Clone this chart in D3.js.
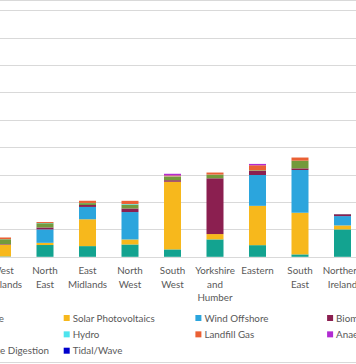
<!DOCTYPE html>
<html>
<head>
<meta charset="utf-8">
<script src="https://cdn.jsdelivr.net/npm/d3@7"></script>
<style>
  html, body { margin: 0; padding: 0; background: #fff; overflow: hidden; }
  svg { display: block; }
  text { font-family: "Lato", "Liberation Sans", sans-serif; fill: #595959; }
</style>
</head>
<body>
<svg id="chart" width="356" height="364"></svg>
<script>
// ---- data (MW) ----
const categories = ["West Midlands", "North East", "East Midlands", "North West", "South West",
  "Yorkshire and Humber", "Eastern", "South East", "Northern Ireland"];
const tickLabels = [["West", "Midlands"], ["North", "East"], ["East", "Midlands"], ["North", "West"],
  ["South", "West"], ["Yorkshire", "and", "Humber"], ["Eastern"], ["South", "East"], ["Northern", "Ireland"]];
const seriesNames = ["Wind Onshore", "Solar Photovoltaics", "Wind Offshore", "Biomass", "Co-firing",
  "Hydro", "Landfill Gas", "Anaerobic Digestion", "Sewage Sludge Digestion", "Tidal/Wave"];
const seriesColors = ["#13A390", "#F7B81C", "#2BA5DD", "#8B1F50", "#739A3C",
  "#4EE4EE", "#EA6034", "#B12BD2", "#A5A5A5", "#0000CC"];
const windOnshore  = [15, 430, 390, 450, 270, 635, 425, 88, 1000];
const solarPV      = [425, 80, 980, 183, 2470, 195, 1435, 1520, 145];
const windOffshore = [0, 490, 450, 1000, 0, 0, 1125, 1560, 340];
const biomass      = [20, 70, 70, 130, 55, 2035, 155, 60, 70];
const coFiring     = [180, 155, 70, 145, 130, 130, 20, 280, 0];
const hydro        = [5, 10, 5, 20, 10, 5, 0, 0, 5];
const landfillGas  = [60, 35, 80, 115, 35, 75, 180, 115, 0];
const anaerobic    = [0, 0, 0, 0, 60, 0, 50, 0, 0];
const sewage       = [0, 0, 0, 0, 0, 0, 0, 0, 0];
const tidalWave    = [0, 0, 0, 0, 0, 0, 0, 0, 0];
const yTicks = [0, 1000, 2000, 3000, 4000, 5000, 6000, 7000, 8000, 9000];

const seriesValues = [windOnshore, solarPV, windOffshore, biomass, coFiring, hydro,
  landfillGas, anaerobic, sewage, tidalWave];

const rows = categories.map((c, i) => {
  const r = { category: c };
  seriesNames.forEach((s, j) => r[s] = seriesValues[j][i]);
  return r;
});

const svg = d3.select("#chart");
const FS = 9.8;

// chart border (chart area extends beyond the visible window)
svg.append("rect").attr("x", -300).attr("y", 0.5).attr("width", 1000).attr("height", 362)
  .attr("fill", "#fff").attr("stroke", "#D9D9D9").attr("stroke-width", 1);

const plotLeft = -70, plotRight = 430;
const x = d3.scaleBand().domain(categories).range([-18.75, 363.75]).paddingInner(0.6).paddingOuter(0.3);
const y = d3.scaleLinear().domain([0, 9000]).range([256.8, 10.2]);

// gridlines (value labels lie outside the visible window)
const yAxis = d3.axisLeft(y).tickValues(yTicks).tickSize(-(plotRight - plotLeft)).tickFormat("");
const gy = svg.append("g").attr("transform", `translate(${plotLeft},0)`).call(yAxis);
gy.select(".domain").remove();
gy.selectAll(".tick line").attr("stroke", "#D9D9D9").attr("stroke-width", 1);
gy.selectAll(".tick").attr("transform", d => `translate(0,${Math.round(y(d)) + 0.5})`);
gy.selectAll(".tick text").remove();

// stacked bars
const stack = d3.stack().keys(seriesNames);
const stacked = stack(rows);
svg.append("g").selectAll("g").data(stacked).join("g")
  .attr("fill", (d, i) => seriesColors[i])
  .selectAll("rect").data(d => d).join("rect")
  .attr("x", d => x(d.data.category))
  .attr("width", x.bandwidth())
  .attr("y", d => y(d[1]))
  .attr("height", d => Math.max(0, y(d[0]) - y(d[1])));

// category axis
const xAxis = d3.axisBottom(x).tickSize(0).tickFormat("");
const gx = svg.append("g").attr("transform", `translate(0,${Math.round(y(0)) + 0.5})`).call(xAxis);
gx.select(".domain").attr("stroke", "#D9D9D9").attr("d", `M${plotLeft},0H${plotRight}`);
gx.selectAll(".tick").each(function(d, i) {
  const t = d3.select(this).append("text")
    .attr("text-anchor", "middle").attr("font-size", FS).attr("fill", "#595959");
  tickLabels[i].forEach((line, k) => {
    t.append("tspan").attr("x", 0).attr("y", 16.6 + k * 13.4).text(line);
  });
});

// legend (4 columns)
const legCols = 4, colPitch = 131.7, textX0 = -59, rowY0 = 318, rowPitch = 16.35;
const leg = svg.append("g");
seriesNames.forEach((name, i) => {
  const col = i % legCols, row = Math.floor(i / legCols);
  const tx = textX0 + col * colPitch, cy = rowY0 + row * rowPitch;
  const g = leg.append("g");
  g.append("rect").attr("x", tx - 9).attr("y", cy - 3).attr("width", 6).attr("height", 6)
    .attr("fill", seriesColors[i]);
  g.append("text").attr("x", tx).attr("y", cy + 3.6).attr("font-size", FS).text(name);
});
</script>
</body>
</html>
